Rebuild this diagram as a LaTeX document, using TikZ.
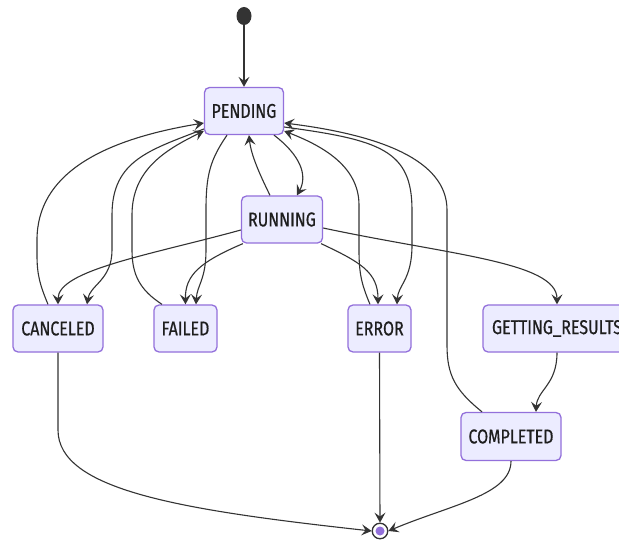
\documentclass[tikz,border=0pt]{standalone}
\usepackage{fontspec}
\setmainfont[FakeStretch=0.8, FakeBold=0.6]{Fira Sans}
\usetikzlibrary{arrows.meta,shapes.geometric}
\definecolor{stfill}{HTML}{ECECFF}
\definecolor{stborder}{HTML}{9370DB}
\definecolor{edgecol}{HTML}{333333}
\definecolor{txtcol}{HTML}{1E1E1E}
\tikzset{
  state/.style={draw=stborder, fill=stfill, line width=1.3pt, rounded corners=5pt,
    minimum height=47pt, inner sep=0pt, text=txtcol, font=\fontsize{20}{20}\selectfont},
  trans/.style={draw=edgecol, line width=1.1pt,
    -{Stealth[length=10pt, width=11pt, inset=4pt]}},
}
\begin{document}
\begin{tikzpicture}[x=1pt, y=-1pt]
\useasboundingbox (0,0) rectangle (619,540);
\clip (0,0) rectangle (619,540);
\fill[white] (0,0) rectangle (619,540);

% states
\node[state, minimum width=79pt] (pend) at (244,111) {PENDING};
\node[state, minimum width=81pt] (run)  at (282,219.5) {RUNNING};
\node[state, minimum width=90pt] (canc) at (58,328.5) {CANCELED};
\node[state, minimum width=63pt] (fail) at (185.5,328.5) {FAILED};
\node[state, minimum width=63pt] (err)  at (379.5,328.5) {ERROR};
\node[state, minimum width=148pt] (get) at (557,328.5) {GETTING\_RESULTS};
\node[state, minimum width=100pt, minimum height=48pt] (comp) at (511,436.5) {COMPLETED};

% initial and final pseudo-states
\node[ellipse, fill=edgecol, minimum width=15pt, minimum height=18pt, inner sep=0pt] (start) at (244,16) {};
\node[circle, draw=edgecol, fill=white, line width=1.3pt, minimum size=15.5pt, inner sep=0pt] (end) at (380,531) {};
\fill[stborder] (end.center) circle (4.5pt);

% start
\draw[trans] (start.south) -- (pend.north);

% PENDING <-> RUNNING
\draw[trans] ([xshift=30pt]pend.south) .. controls (300,155) and (308,175) .. ([xshift=15pt]run.north);
\draw[trans] ([xshift=-12pt]run.north) .. controls (260,175) and (251,155) .. ([xshift=5pt]pend.south);

% RUNNING -> outcomes
\draw[trans] ([yshift=-10.5pt]run.west) .. controls (150,255) and (58,270) .. (canc.north);
\draw[trans] ([xshift=2pt]run.south west) .. controls (200,262) and (185,275) .. (fail.north);
\draw[trans] ([xshift=-2pt]run.south east) .. controls (360,262) and (378,272) .. ([xshift=-1.5pt]err.north);
\draw[trans] ([yshift=-8.5pt]run.east) .. controls (450,255) and (557,262) .. (get.north);

% CANCELED <-> PENDING
\draw[trans] ([xshift=-10pt]canc.north) .. controls (40,285) and (37,275) .. (37,255)
  -- (37,240) .. controls (37,175) and (100,140) .. ([yshift=-12pt]pend.west);
\draw[trans] ([yshift=-18pt]pend.west) .. controls (150,150) and (112,160) .. (112,215)
  -- (112,250) .. controls (112,280) and (90,285) .. ([xshift=29pt]canc.north);

% FAILED <-> PENDING
\draw[trans] ([xshift=-23.5pt]fail.north) .. controls (140,290) and (132,275) .. (132,250)
  -- (132,215) .. controls (132,170) and (165,150) .. ([yshift=-20pt]pend.west);
\draw[trans] ([xshift=-17pt]pend.south) .. controls (210,160) and (206,175) .. (206,210)
  -- (206,250) .. controls (206,280) and (197,285) .. ([xshift=10.5pt]fail.north);

% ERROR <-> PENDING
\draw[trans] ([yshift=-16pt]pend.east) .. controls (380,140) and (412,150) .. (412,210)
  -- (412,245) .. controls (412,280) and (398,285) .. ([xshift=17.5pt]err.north);
\draw[trans] ([xshift=-9.5pt]err.north) .. controls (362,285) and (359,275) .. (359,250)
  -- (359,205) .. controls (359,165) and (320,145) .. ([yshift=-20pt]pend.east);

% COMPLETED -> PENDING
\draw[trans] ([xshift=-29pt]comp.north) .. controls (455,390) and (447,375) .. (447,345)
  -- (447,210) .. controls (447,160) and (380,135) .. ([yshift=-12pt]pend.east);

% GETTING_RESULTS -> COMPLETED
\draw[trans] (get.south) .. controls (557,385) and (537,390) .. ([xshift=25pt]comp.north);

% to the final state
\draw[trans] (canc.south) -- (58,430) .. controls (58,490) and (180,510) .. (end.west);
\draw[trans] (err.south) -- (end.north);
\draw[trans] (comp.south) .. controls (511,495) and (450,505) .. (end.east);
\end{tikzpicture}
\end{document}
